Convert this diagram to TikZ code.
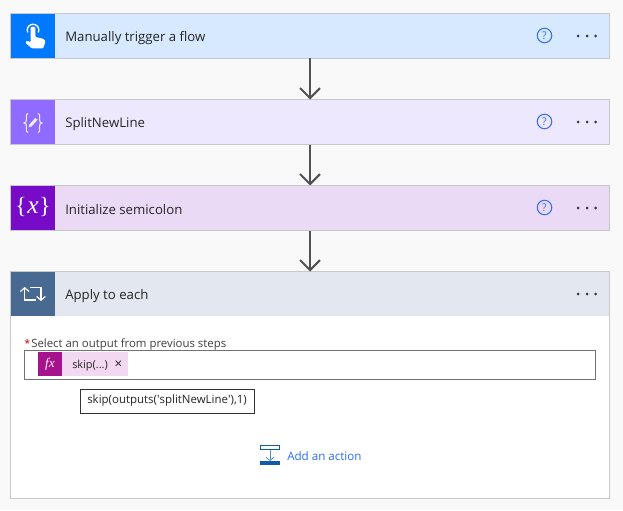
\documentclass[tikz,border=0pt]{standalone}
\usepackage{fontspec}
\usetikzlibrary{arrows.meta}
\setmainfont{Open Sans}
\newfontfamily\serifface{Liberation Serif}
\definecolor{bgc}{HTML}{F9F9F9}
\definecolor{edgec}{HTML}{C8C8C8}
\definecolor{inkc}{HTML}{252525}
\definecolor{helpc}{HTML}{3A6FF0}
\definecolor{linkc}{HTML}{2F6BFF}
\definecolor{actc}{HTML}{0F5CAB}
\definecolor{cardA}{HTML}{D7E9FF}
\definecolor{iconA}{HTML}{0079FF}
\definecolor{cardB}{HTML}{EEE8FF}
\definecolor{iconB}{HTML}{8F6CFF}
\definecolor{cardC}{HTML}{EADAF6}
\definecolor{iconC}{HTML}{770BC8}
\definecolor{cardD}{HTML}{E3E7EF}
\definecolor{iconD}{HTML}{486991}
\definecolor{fxc}{HTML}{A6118C}
\definecolor{chipc}{HTML}{F2D8F0}
\tikzset{
  x=0.75pt,y=-0.75pt,
  card/.style={draw=edgec,line width=1.1pt,minimum width=599*0.75pt,minimum height=45*0.75pt,inner sep=0pt,outer sep=0pt},
  iconbox/.style={minimum width=44*0.75pt,minimum height=44*0.75pt,inner sep=0pt,outer sep=0pt},
  title/.style={anchor=west,inner sep=0pt,font=\fontsize{9.9pt}{12pt}\selectfont,text=inkc},
  helpmark/.style={draw=helpc,circle,line width=0.8pt,minimum size=14.5*0.75pt,inner sep=0pt,text=helpc,font=\fontsize{8pt}{8pt}\selectfont},
  flowarrow/.style={draw=black!68,line width=1.5pt,-{Straight Barb[length=7.5pt,width=15pt]}},
  dotmark/.style={circle,fill=black!78,minimum size=3*0.75pt,inner sep=0pt},
  small/.style={inner sep=0pt,font=\fontsize{8.2pt}{10pt}\selectfont,text=inkc},
  bracepen/.style={draw=white!85!iconB,line width=0.8pt},
}
\newcommand{\threedots}[1]{%
  \node[dotmark] at (578,#1) {};
  \node[dotmark] at (587,#1) {};
  \node[dotmark] at (595.5,#1) {};}
\begin{document}
\begin{tikzpicture}
\useasboundingbox (0,0) rectangle (623,510);
\fill[bgc] (0,0) rectangle (623,510);

% cards
\node[card,fill=cardA] (trigger) at (310,36) {};
\node[card,fill=cardB] (split) at (310,122) {};
\node[card,fill=cardC] (init) at (310,208) {};
\node[card,fill=white,minimum height=227*0.75pt] (apply) at (310,385) {};
\fill[cardD] (11,272) rectangle (609,316);

% icon squares
\node[iconbox,fill=iconA] (icA) at (33,36) {};
\node[iconbox,fill=iconB] (icB) at (33,122) {};
\node[iconbox,fill=iconC] (icC) at (33,208) {};
\node[iconbox,fill=iconD] (icD) at (33,294) {};

% hand icon
\draw[white,line width=1pt] (27.8,32.5) arc[start angle=155,end angle=385,radius=5.8];
\fill[white,rounded corners=0.8pt] (30.6,29) arc[start angle=180,end angle=360,radius=2.4] -- (35.4,37) -- (44,39) -- (45.5,42) -- (43,48.5) -- (32,48.5) -- (25,42.5) -- (27,40.5) -- (30.6,42.5) -- cycle;

% braces with pencil
\draw[bracepen] (28,113.5) .. controls (25.5,113.5) and (26.5,116) .. (26.5,119) .. controls (26.5,121.5) and (26,123) .. (24,123) .. controls (26,123) and (26.5,124.5) .. (26.5,127) .. controls (26.5,130) and (25.5,132.5) .. (28,132.5);
\draw[bracepen] (38,113.5) .. controls (40.5,113.5) and (39.5,116) .. (39.5,119) .. controls (39.5,121.5) and (40,123) .. (42,123) .. controls (40,123) and (39.5,124.5) .. (39.5,127) .. controls (39.5,130) and (40.5,132.5) .. (38,132.5);
\draw[white!85!iconB,line width=2.2pt] (30.5,125.5) -- (36.5,118.8);
\fill[white!85!iconB] (28.8,127.3) -- (29.6,124) -- (32,126.2) -- cycle;

% braces with x
\node[inner sep=0pt,text=white,font=\serifface\fontsize{17.5pt}{18pt}\selectfont] (brC) at (33,206.5) {\{\kern0.6pt{\fontsize{19pt}{18pt}\selectfont\textit{x}}\kern0.6pt\}};

% loop icon
\draw[white,line width=0.9pt,-{Straight Barb[length=2.8pt,width=6.5pt]}] (36,300) -- (24.7,300) -- (24.7,287);
\draw[white,line width=0.9pt,-{Straight Barb[length=2.8pt,width=6.5pt]}] (29.5,287.5) -- (41,287.5) -- (41,301);

% titles
\node[title] (tA) at (65,38.5) {Manually trigger a flow};
\node[title] (tB) at (65,124.5) {SplitNewLine};
\node[title] (tC) at (65,210) {Initialize semicolon};
\node[title] (tD) at (65,296.5) {Apply to each};

% help marks
\node[helpmark] (hA) at (544.5,35.5) {?};
\node[helpmark] (hB) at (544.5,121.5) {?};
\node[helpmark] (hC) at (544.5,207.5) {?};

\threedots{36}
\threedots{122}
\threedots{208}
\threedots{294}

% connectors
\draw[flowarrow] (trigger.south) -- (split.north);
\draw[flowarrow] (split.south) -- (init.north);
\draw[flowarrow] (init.south) -- (apply.north);

% form
\node[small,anchor=west,text=red!75!black,font=\fontsize{8pt}{10pt}\selectfont] (star) at (24,343) {*};
\node[small,anchor=west,font=\fontsize{8.55pt}{10pt}\selectfont,text=black!75] (lbl) at (31,345) {Select an output from previous steps};
\node[draw=black!55,line width=0.6pt,fill=white,minimum width=571*0.75pt,minimum height=29*0.75pt,inner sep=0pt,outer sep=0pt] (field) at (310,365) {};
\node[fill=chipc,minimum width=66*0.75pt,minimum height=24*0.75pt,inner sep=0pt,outer sep=0pt] (chip) at (95,364) {};
\node[fill=fxc,minimum width=24*0.75pt,minimum height=24*0.75pt,inner sep=0pt,outer sep=0pt,text=white,font=\serifface\itshape\fontsize{10pt}{10pt}\selectfont] (fx) at (50,364) {fx};
\node[small,anchor=west] (chiptxt) at (72,366) {skip(...)};
\node[small,font=\fontsize{10pt}{10pt}\selectfont] (chipx) at (118.5,365) {×};
\node[draw=black!80,line width=0.5pt,fill=white,minimum width=174*0.75pt,minimum height=24*0.75pt,inner sep=0pt,outer sep=0pt,small,font=\fontsize{8.6pt}{10pt}\selectfont] (tip) at (167,401) {\raisebox{-0.9pt}{skip(outputs(\textquotesingle splitNewLine\textquotesingle),1)}};

% add an action
\node[draw=actc,line width=0.8pt,fill=white,minimum width=19*0.75pt,minimum height=4*0.75pt,inner sep=0pt,outer sep=0pt] (actop) at (270,447.5) {};
\node[fill=actc,minimum width=20*0.75pt,minimum height=4*0.75pt,inner sep=0pt,outer sep=0pt] (acbot) at (270,463) {};
\draw[actc!70,line width=0.6pt,-{Straight Barb[length=2.4pt,width=6pt]}] (actop.south) -- (acbot.north);
\node[small,anchor=west,text=linkc,font=\fontsize{8.7pt}{10pt}\selectfont] (addlbl) at (287,456.5) {Add an action};
\end{tikzpicture}
\end{document}
